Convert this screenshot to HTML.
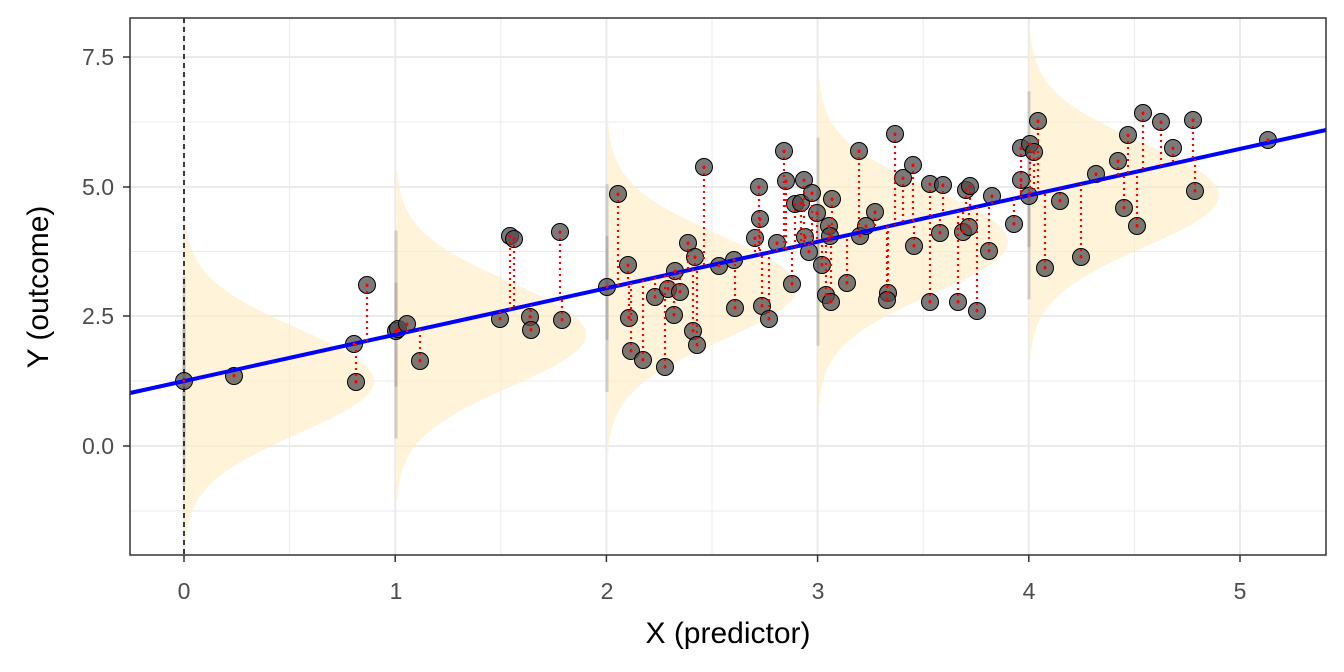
<!DOCTYPE html>
<html><head><meta charset="utf-8"><style>
body{margin:0;background:#fff;}
svg{display:block;font-family:"Liberation Sans",Arial,sans-serif;}
</style></head><body>
<svg id="s" width="1344" height="672" xmlns="http://www.w3.org/2000/svg">
<rect x="130" y="18" width="1196" height="537" fill="#fff"/>
<g id="grid"></g>
<g id="dens"></g>
<g id="bars"></g>
<line x1="184" y1="18" x2="184" y2="555" stroke="#000" stroke-width="1.5" stroke-dasharray="5,4"/>
<g id="pts"></g>
<line x1="130" y1="393" x2="1326" y2="130" stroke="#0000ff" stroke-width="4"/>
<g id="res"></g>
<g id="ticks" stroke="#333" stroke-width="1.5"></g>
<rect x="130" y="18" width="1196" height="537" fill="none" stroke="#333" stroke-width="1.5"/>
<g font-size="23" fill="#4d4d4d" text-anchor="middle">
<text x="184" y="599">0</text><text x="396" y="599">1</text><text x="607" y="599">2</text><text x="818" y="599">3</text><text x="1029" y="599">4</text><text x="1240" y="599">5</text>
</g>
<g font-size="23" fill="#4d4d4d" text-anchor="end">
<text x="114" y="65">7.5</text><text x="114" y="195">5.0</text><text x="114" y="324">2.5</text><text x="114" y="454">0.0</text>
</g>
<text x="728" y="643" font-size="30" text-anchor="middle" fill="#000">X (predictor)</text>
<text transform="translate(48,287) rotate(-90)" font-size="30" text-anchor="middle" fill="#000">Y (outcome)</text>
</svg>
<script>
var NS="http://www.w3.org/2000/svg";
function el(p,t,a){var e=document.createElementNS(NS,t);for(var k in a)e.setAttribute(k,a[k]);document.getElementById(p).appendChild(e);return e;}
function ly(x){return 393-(x-130)*263/1196;}
for(var i=0;i<11;i++){var x=184+i*105.6;if(x>1326)break;el("grid","line",{x1:x,y1:18,x2:x,y2:555,stroke:"#ebebeb","stroke-width":i%2?1:2});if(i%2==0)el("ticks","line",{x1:x,y1:555,x2:x,y2:562});}
var ys=[57,122,187,251.5,316,381,446,511];
ys.forEach(function(y,i){el("grid","line",{x1:130,y1:y,x2:1326,y2:y,stroke:"#ebebeb","stroke-width":i%2?1:2});if(i%2==0)el("ticks","line",{x1:123,y1:y,x2:130,y2:y});});
[184,396,607,818,1029].forEach(function(cx){
 var cy=ly(cx),d="M"+cx+","+(cy-165);
 for(var y=cy-165;y<=cy+165;y+=3){d+=" L"+(cx+190*Math.exp(-0.5*Math.pow((y-cy)/52,2)))+","+y;}
 d+=" L"+cx+","+(cy+165)+"Z";
 el("dens","path",{d:d,fill:"#ffecc4","fill-opacity":0.65});
 el("bars","line",{x1:cx,y1:cy-104,x2:cx,y2:cy+104,stroke:"#999","stroke-opacity":0.4,"stroke-width":3});
 el("bars","line",{x1:cx,y1:cy-52,x2:cx,y2:cy+52,stroke:"#999","stroke-opacity":0.5,"stroke-width":3});
});
var P=[[184,381],[234,376],[354,344],[356,382],[367,285],[396,331],[398,329],[407,324],[420,361],[500,319],[510,236],[514,239],[530,317],[531,330],[560,232],[562,320],[607,287],[618,194],[628,265],[629,318],[631,351],[643,360],[655,297],[665,367],[668,289],[674,315],[675,271],[680,292],[688,243],[693,331],[695,257],[697,345],[704,167],[719,266],[734,260],[735,308],[755,238],[759,187],[760,219],[762,306],[769,319],[777,243],[784,151],[786,181],[792,284],[795,204],[801,203],[804,180],[805,237],[809,252],[812,193],[817,213],[822,265],[826,295],[829,226],[831,302],[832,199],[830,236],[847,283],[859,151],[860,236],[866,226],[875,212],[888,293],[887,300],[895,134],[903,178],[913,165],[914,246],[930,184],[930,302],[940,233],[943,185],[958,302],[963,232],[966,190],[969,227],[970,186],[977,311],[989,251],[992,196],[1014,224],[1021,148],[1021,180],[1029,196],[1030,144],[1034,152],[1038,121],[1045,268],[1060,201],[1081,257],[1096,174],[1118,161],[1124,208],[1128,135],[1137,226],[1143,113],[1161,122],[1173,148],[1193,120],[1195,191],[1268,140]];
P.forEach(function(p){el("pts","circle",{cx:p[0],cy:p[1],r:8.5,fill:"#4d4d4d","fill-opacity":0.75,stroke:"#000","stroke-width":1});});
P.forEach(function(p){el("res","line",{x1:p[0],y1:p[1],x2:p[0],y2:ly(p[0]),stroke:"#ff0000","stroke-width":2.2,"stroke-dasharray":"2,4"});
 el("res","circle",{cx:p[0],cy:p[1],r:1.5,fill:"#ff0000"});});
</script>
</body></html>
